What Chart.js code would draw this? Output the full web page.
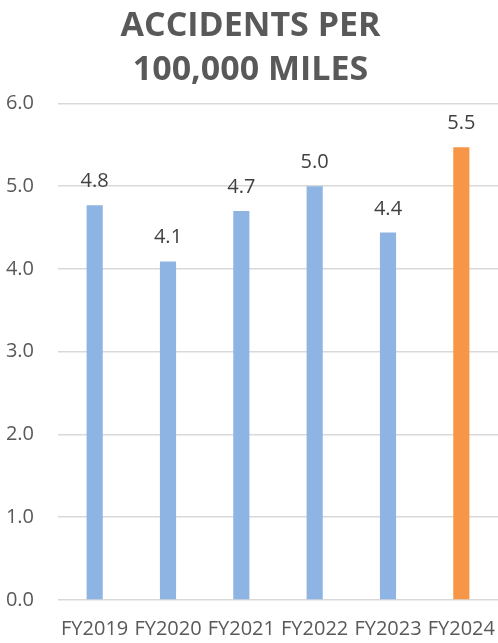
<!DOCTYPE html>
<html lang="en">
<head>
  <meta charset="UTF-8" />
  <title>Accidents per 100,000 miles</title>
  <script src="https://cdn.jsdelivr.net/npm/chart.js"></script>
  <style>
    body {
      margin: 0;
      background: #fff;
    }
    #wrap {
      width: 498px;
      height: 643px;
    }
  </style>
</head>
<body>
  <div id="wrap"><canvas id="chart"></canvas></div>

  <script>
    const years = ['FY2019', 'FY2020', 'FY2021', 'FY2022', 'FY2023', 'FY2024'];
    const accidents = [4.77, 4.09, 4.70, 5.00, 4.44, 5.47];
    const barColors = ['#8db4e2', '#8db4e2', '#8db4e2', '#8db4e2', '#8db4e2', '#f79646'];
    const yTicks = [0, 1, 2, 3, 4, 5, 6];

    const textGrey = '#595959';

    // value labels above each bar
    const barLabels = {
      id: 'barLabels',
      afterDatasetsDraw(chart) {
        const ctx = chart.ctx;
        const meta = chart.getDatasetMeta(0);
        ctx.save();
        ctx.font = '20px "Open Sans"';
        ctx.fillStyle = '#404040';
        ctx.textAlign = 'center';
        ctx.textBaseline = 'alphabetic';
        meta.data.forEach((bar, i) => {
          ctx.fillText(accidents[i].toFixed(1), bar.x, bar.y - 18);
        });
        ctx.restore();
      }
    };

    new Chart(document.getElementById('chart'), {
      type: 'bar',
      data: {
        labels: years,
        datasets: [{
          data: accidents,
          backgroundColor: barColors,
          categoryPercentage: 1,
          barPercentage: 0.22
        }]
      },
      options: {
        responsive: true,
        maintainAspectRatio: false,
        animation: false,
        layout: { padding: { left: 3, right: 0, top: 0, bottom: 0 } },
        plugins: {
          legend: { display: false },
          tooltip: { enabled: false },
          title: {
            display: true,
            text: ['ACCIDENTS PER', '100,000 MILES'],
            color: textGrey,
            font: { family: 'Open Sans', size: 34, weight: 'bold', lineHeight: 1.3 },
            padding: { top: 4, bottom: 11 }
          }
        },
        scales: {
          x: {
            grid: { display: false },
            border: { display: false },
            ticks: {
              color: textGrey,
              font: { family: 'Open Sans', size: 20, lineHeight: 1 },
              maxRotation: 0,
              autoSkip: false,
              padding: 11
            },
            afterFit(axis) {
              // bars reach the right edge, labels sit in the bottom strip
              axis.paddingLeft = 0;
              axis.paddingRight = 0;
              axis.height = 43;
            }
          },
          y: {
            min: 0,
            max: 6,
            afterBuildTicks(axis) {
              axis.ticks = yTicks.map(v => ({ value: v }));
            },
            grid: { color: '#d9d9d9', lineWidth: 1.5, drawTicks: false },
            border: { display: false },
            ticks: {
              color: textGrey,
              font: { family: 'Open Sans', size: 20 },
              padding: 24,
              callback: v => v.toFixed(1)
            },
            afterFit(axis) {
              axis.width = 55;
            }
          }
        }
      },
      plugins: [barLabels]
    });
  </script>
</body>
</html>
